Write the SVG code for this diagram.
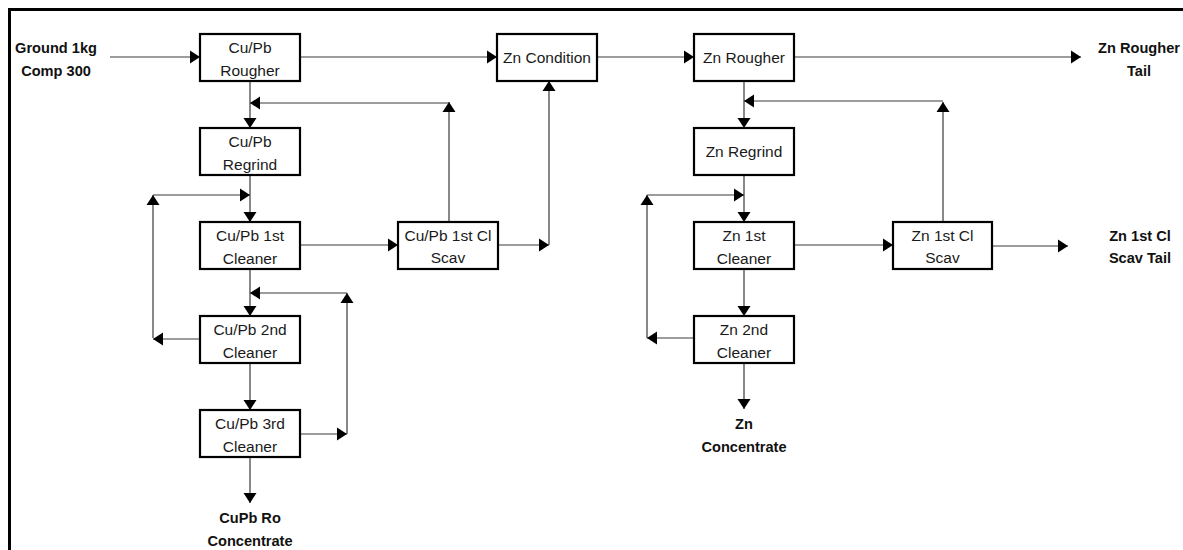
<svg xmlns="http://www.w3.org/2000/svg" width="1183" height="550" viewBox="0 0 1183 550">
<defs>
<marker id="ah" markerUnits="userSpaceOnUse" markerWidth="11" markerHeight="13" refX="10" refY="6.5" orient="auto" overflow="visible">
<path d="M0,0 L10,6.5 L0,13 Z" fill="#000"/>
</marker>
</defs>
<style>
.box{fill:#fff;stroke:#000;stroke-width:2.2}
.t{font-family:"Liberation Sans",Arial,sans-serif;font-size:15.5px;fill:#1a1a1a;text-anchor:middle}
.b{font-family:"Liberation Sans",Arial,sans-serif;font-size:14.6px;font-weight:bold;fill:#111;text-anchor:middle}
.c line{stroke:#3a3a3a;stroke-width:1.2;marker-end:url(#ah)}
</style>
<rect x="0" y="0" width="1183" height="550" fill="#fff"/>
<rect x="9.5" y="9.5" width="1200" height="600" fill="none" stroke="#000" stroke-width="3"/>
<g id="connectors" class="c">
<line x1="110" y1="57" x2="200" y2="57"/>
<line x1="300" y1="57" x2="497" y2="57"/>
<line x1="597" y1="57" x2="694" y2="57"/>
<line x1="794" y1="57" x2="1081" y2="57"/>
<line x1="250" y1="81" x2="250" y2="128"/>
<line x1="449" y1="222" x2="449" y2="102"/>
<line x1="449" y1="103" x2="250" y2="103"/>
<line x1="250" y1="175" x2="250" y2="222"/>
<line x1="153" y1="338" x2="153" y2="195"/>
<line x1="153" y1="195" x2="250" y2="195"/>
<line x1="300" y1="245" x2="398" y2="245"/>
<line x1="498" y1="245" x2="549" y2="245"/>
<line x1="549" y1="245" x2="549" y2="81"/>
<line x1="250" y1="269" x2="250" y2="316"/>
<line x1="347" y1="434" x2="347" y2="293"/>
<line x1="347" y1="293" x2="250" y2="293"/>
<line x1="199" y1="339" x2="153" y2="339"/>
<line x1="250" y1="363" x2="250" y2="410"/>
<line x1="300" y1="434" x2="347" y2="434"/>
<line x1="250" y1="457" x2="250" y2="503"/>
<line x1="744" y1="81" x2="744" y2="128"/>
<line x1="943" y1="222" x2="943" y2="102"/>
<line x1="943" y1="101" x2="744" y2="101"/>
<line x1="744" y1="175" x2="744" y2="222"/>
<line x1="647" y1="338" x2="647" y2="195"/>
<line x1="647" y1="195" x2="744" y2="195"/>
<line x1="794" y1="245" x2="893" y2="245"/>
<line x1="744" y1="269" x2="744" y2="316"/>
<line x1="693" y1="338" x2="647" y2="338"/>
<line x1="744" y1="363" x2="744" y2="409"/>
<line x1="992" y1="246" x2="1068" y2="246"/>
</g>
<g id="feed"><text class="b" x="56" y="53">Ground 1kg</text><text class="b" x="56" y="76">Comp 300</text></g>
<g id="cupb_rougher"><rect class="box" x="200" y="34" width="100" height="47"/><text class="t" x="250" y="53">Cu/Pb</text><text class="t" x="250" y="76">Rougher</text></g>
<g id="cupb_regrind"><rect class="box" x="200" y="128" width="100" height="47"/><text class="t" x="250" y="147">Cu/Pb</text><text class="t" x="250" y="170">Regrind</text></g>
<g id="cupb_cl1"><rect class="box" x="200" y="222" width="100" height="47"/><text class="t" x="250" y="241">Cu/Pb 1st</text><text class="t" x="250" y="264">Cleaner</text></g>
<g id="cupb_cl2"><rect class="box" x="200" y="316" width="100" height="47"/><text class="t" x="250" y="335">Cu/Pb 2nd</text><text class="t" x="250" y="358">Cleaner</text></g>
<g id="cupb_cl3"><rect class="box" x="200" y="410" width="100" height="47"/><text class="t" x="250" y="429">Cu/Pb 3rd</text><text class="t" x="250" y="452">Cleaner</text></g>
<g id="cupb_scav"><rect class="box" x="398" y="222" width="100" height="47"/><text class="t" x="448" y="241">Cu/Pb 1st Cl</text><text class="t" x="448" y="263">Scav</text></g>
<g id="zn_condition"><rect class="box" x="497" y="34" width="100" height="47"/><text class="t" x="547" y="63">Zn Condition</text></g>
<g id="zn_rougher"><rect class="box" x="694" y="34" width="100" height="47"/><text class="t" x="744" y="63">Zn Rougher</text></g>
<g id="zn_regrind"><rect class="box" x="694" y="128" width="100" height="47"/><text class="t" x="744" y="157">Zn Regrind</text></g>
<g id="zn_cl1"><rect class="box" x="694" y="222" width="100" height="47"/><text class="t" x="744" y="241">Zn 1st</text><text class="t" x="744" y="264">Cleaner</text></g>
<g id="zn_cl2"><rect class="box" x="694" y="316" width="100" height="47"/><text class="t" x="744" y="335">Zn 2nd</text><text class="t" x="744" y="358">Cleaner</text></g>
<g id="zn_scav"><rect class="box" x="893" y="222" width="99" height="47"/><text class="t" x="942.5" y="241">Zn 1st Cl</text><text class="t" x="942.5" y="263">Scav</text></g>
<g id="cupb_conc"><text class="b" x="250" y="523">CuPb Ro</text><text class="b" x="250" y="546">Concentrate</text></g>
<g id="zn_conc"><text class="b" x="744" y="429">Zn</text><text class="b" x="744" y="452">Concentrate</text></g>
<g id="zn_rougher_tail"><text class="b" x="1139" y="53">Zn Rougher</text><text class="b" x="1139" y="76">Tail</text></g>
<g id="zn_scav_tail"><text class="b" x="1140" y="241">Zn 1st Cl</text><text class="b" x="1140" y="263">Scav Tail</text></g>
</svg>
